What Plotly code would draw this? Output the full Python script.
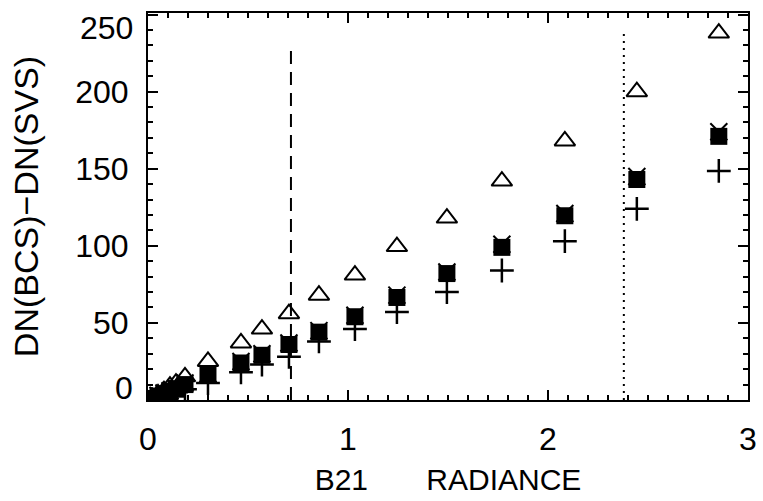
import plotly.graph_objects as go

# Data
radiance = [0.02, 0.05, 0.08, 0.11, 0.14, 0.185, 0.30, 0.465, 0.57, 0.705,
            0.855, 1.035, 1.245, 1.495, 1.77, 2.085, 2.445, 2.855]
tri_vals = [1.5, 4, 6, 9, 11, 15, 25, 37, 46, 56, 68, 81, 99.5, 118, 142, 168, 200, 238]
sq_vals = [1, 2.5, 4, 5.5, 7, 10, 16, 24, 29, 36, 44, 54, 66.5, 82, 99, 119.5, 143, 171]
x_vals = [1.5, 3, 4.5, 6, 8, 11, 17, 25, 30, 37, 45, 55, 68, 83, 101, 121, 145, 174]
plus_vals = [0.5, 2, 3, 4, 5, 7, 11, 18, 23, 28, 38, 46, 57, 70, 84, 103, 124, 148.6]

y_ticks = [0, 50, 100, 150, 200, 250]
y_ticktext = ["0", "50", "100", "150", "200", "250"]
x_ticks = [0, 1, 2, 3]
x_ticktext = ["0", "1", "2", "3"]

dashed_x = 0.715
dashed_top = 227
dotted_x = 2.38
dotted_top = 240

FONT = "Liberation Sans, Arial, Helvetica, sans-serif"

fig = go.Figure()
fig.add_trace(go.Scatter(x=radiance, y=tri_vals, mode="markers",
                         marker=dict(symbol="triangle-up-open", size=18, color="black",
                                     line=dict(width=2, color="black"))))
fig.add_trace(go.Scatter(x=radiance, y=plus_vals, mode="markers",
                         marker=dict(symbol="cross-thin", size=17,
                                     line=dict(width=2.5, color="black"))))
fig.add_trace(go.Scatter(x=radiance, y=sq_vals, mode="markers",
                         marker=dict(symbol="square", size=17, color="black",
                                     line=dict(width=0))))
fig.add_trace(go.Scatter(x=radiance, y=x_vals, mode="markers",
                         marker=dict(symbol="x-thin", size=17,
                                     line=dict(width=2, color="black"))))

fig.add_shape(type="line", xref="x", yref="y", x0=dashed_x, x1=dashed_x, y0=0, y1=dashed_top,
              line=dict(color="black", width=2, dash="13px,8px"))
fig.add_shape(type="line", xref="x", yref="y", x0=dotted_x, x1=dotted_x, y0=0, y1=dotted_top,
              line=dict(color="black", width=2, dash="2px,5px"))

axis_common = dict(showgrid=False, zeroline=False, showline=True, linecolor="black",
                   linewidth=2, mirror="ticks", ticks="inside", tickcolor="black",
                   tickwidth=2, ticklen=10, ticklabeloverflow="allow", automargin=False,
                   tickfont=dict(family=FONT, size=32, color="black"))

fig.update_xaxes(range=[0, 3.001], tickvals=x_ticks, ticktext=x_ticktext,
                 minor=dict(dtick=0.1, tick0=0, ticks="inside", ticklen=5,
                            tickcolor="black", tickwidth=2),
                 ticklabelstandoff=10,
                 title=dict(text="B21\u00a0\u00a0\u00a0\u00a0\u00a0\u00a0\u00a0RADIANCE",
                            font=dict(family=FONT, size=30, color="black"), standoff=13),
                 **axis_common)

# End labels (0 and 250) are nudged inward as in the reference, drawn as annotations
inner_text = ["" if v in (y_ticks[0], y_ticks[-1]) else t for v, t in zip(y_ticks, y_ticktext)]
fig.update_yaxes(range=[0, 251], tickvals=y_ticks, ticktext=inner_text,
                 minor=dict(dtick=10, tick0=0, ticks="inside", ticklen=5,
                            tickcolor="black", tickwidth=2),
                 ticklabelstandoff=11,
                 title=dict(text="DN(BCS)\u2212DN(SVS)",
                            font=dict(family=FONT, size=34, color="black"), standoff=26),
                 **axis_common)

for v, t, shift in [(y_ticks[0], y_ticktext[0], 12), (y_ticks[-1], y_ticktext[-1], -13)]:
    fig.add_annotation(x=0, xref="paper", y=v, yref="y", text=t, showarrow=False,
                       xanchor="right", yanchor="middle", xshift=-13, yshift=shift,
                       font=dict(family=FONT, size=32, color="black"))

fig.update_layout(width=763, height=501, showlegend=False,
                  margin=dict(l=148, r=15, t=13, b=101, autoexpand=False),
                  plot_bgcolor="white", paper_bgcolor="white")

fig.write_html("out.html")
